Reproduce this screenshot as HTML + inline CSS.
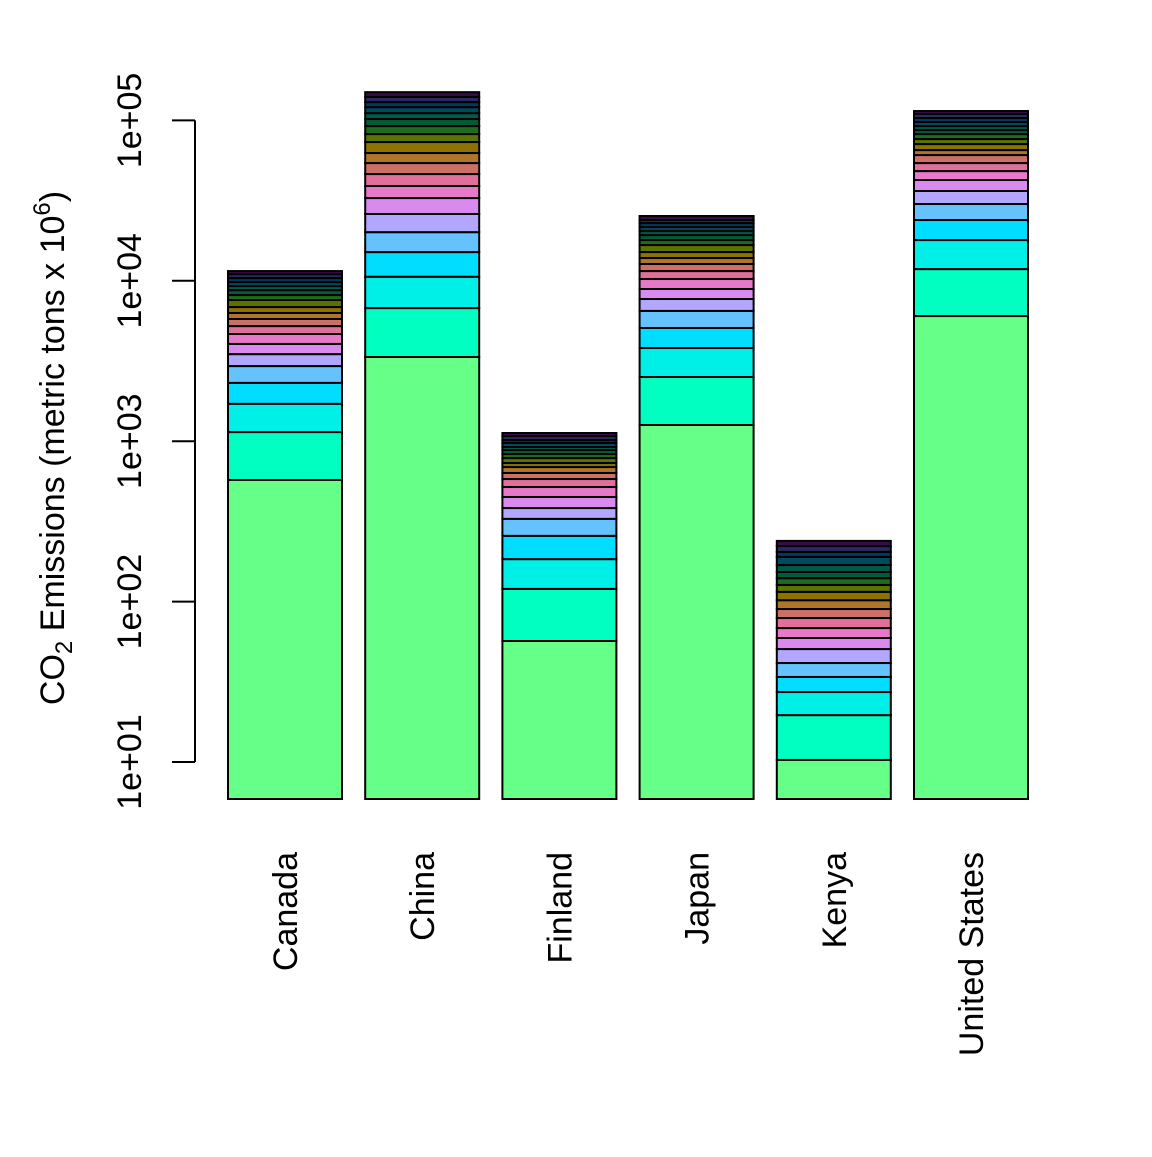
<!DOCTYPE html>
<html><head><meta charset="utf-8"><style>
html,body{margin:0;padding:0;background:#fff;}
svg text{font-family:"Liberation Sans",Arial,sans-serif;fill:#000;}
</style></head><body>
<svg id="chart" width="1152" height="1152" viewBox="0 0 1152 1152" xmlns="http://www.w3.org/2000/svg">
<rect width="1152" height="1152" fill="#fff"/>
<g id="bars"></g>
<g id="axis"></g>
<g id="xlabels"></g>
<text transform="translate(64,448) rotate(-90)" text-anchor="middle" font-size="34">CO<tspan font-size="24" dy="8">2</tspan><tspan dy="-8"> Emissions (metric tons x 10</tspan><tspan font-size="24" dy="-14">6</tspan><tspan dy="14">)</tspan></text>
</svg>
<script>
const categories = ["Canada","China","Finland","Japan","Kenya","United States"];
// cumulative stacked totals per country (bottom to top, 20 segments)
const canada = [573,1140,1710,2310,2940,3490,4040,4660,5220,5780,6300,6860,7590,8150,8750,9270,9820,10400,11000,11500];
const china = [3350,6760,10600,15100,20100,26100,32800,39000,46300,54200,62600,73300,82200,92200,102000,111000,121000,130000,140000,150000];
const finland = [56.8,120,184,257,328,383,449,518,581,634,690,731,785,832,881,920,975,1017,1077,1125];
const japan = [1262,2513,3810,5080,6490,7700,8890,10260,11500,12730,13870,15110,16710,17950,19280,20420,21630,22910,23930,25350];
const kenya = [10.3,19.6,27.3,33.9,41.4,50.6,59.3,68.4,79.0,89.9,102,115,127,140,153,169,190,204,222,239];
const unitedStates = [6030,11830,17950,23930,30110,36300,42500,48310,54200,60800,65300,71200,76500,82200,87100,92200,97700,103500,109700,114400];
const tickValues = [10,100,1000,10000,100000];
const tickLabels = ["1e+01","1e+02","1e+03","1e+04","1e+05"];

const series = [canada, china, finland, japan, kenya, unitedStates];
const colors = ["#66FF88","#00FFC0","#00F0E8","#00DDFF","#66C2FF","#B3A6FF","#DA8AEE","#E879C8","#E0709A","#CC7066","#B07628","#8C7300","#5C7300","#1E6B1E","#005C38","#005A4A","#004A5E","#003A5E","#2A2A60","#3A0A4A"];
const NS = "http://www.w3.org/2000/svg";
const yBase = 799;
function yScale(v){ return 762 - (Math.log10(v) - 1) * 160.4; }
function xLeft(i){ return 228 + i * 137.2; }
const barW = 114;

const gb = document.getElementById('bars');
series.forEach((vals, i) => {
  let prev = yBase;
  vals.forEach((v, j) => {
    const yt = yScale(v);
    const r = document.createElementNS(NS,'rect');
    r.setAttribute('x', xLeft(i)); r.setAttribute('y', yt);
    r.setAttribute('width', barW); r.setAttribute('height', Math.max(0, prev - yt));
    r.setAttribute('fill', colors[j % colors.length]);
    r.setAttribute('stroke', '#000'); r.setAttribute('stroke-width', '2');
    
    
    gb.appendChild(r);
    prev = yt;
  });
});

const ga = document.getElementById('axis');
const axl = document.createElementNS(NS,'line');
axl.setAttribute('x1',195); axl.setAttribute('x2',195);
axl.setAttribute('y1',yScale(tickValues[tickValues.length-1])); axl.setAttribute('y2',yScale(tickValues[0]));
axl.setAttribute('stroke','#000'); axl.setAttribute('stroke-width','2');


ga.appendChild(axl);
tickValues.forEach((t, k) => {
  const y = yScale(t);
  const l = document.createElementNS(NS,'line');
  l.setAttribute('x1',172); l.setAttribute('x2',195); l.setAttribute('y1',y); l.setAttribute('y2',y);
  l.setAttribute('stroke','#000'); l.setAttribute('stroke-width','2');
  
  
  ga.appendChild(l);
  const tx = document.createElementNS(NS,'text');
  tx.setAttribute('transform','translate(141,'+y+') rotate(-90)');
  tx.setAttribute('text-anchor','middle'); tx.setAttribute('font-size','34');
  tx.textContent = tickLabels[k];
  
  
  ga.appendChild(tx);
});

const gx = document.getElementById('xlabels');
categories.forEach((c, i) => {
  const cx = xLeft(i) + barW/2 + 12;
  const tx = document.createElementNS(NS,'text');
  tx.setAttribute('transform','translate('+cx+',852) rotate(-90)');
  tx.setAttribute('text-anchor','end'); tx.setAttribute('font-size','34');
  tx.textContent = c;
  
  
  gx.appendChild(tx);
});
</script>
</body></html>
